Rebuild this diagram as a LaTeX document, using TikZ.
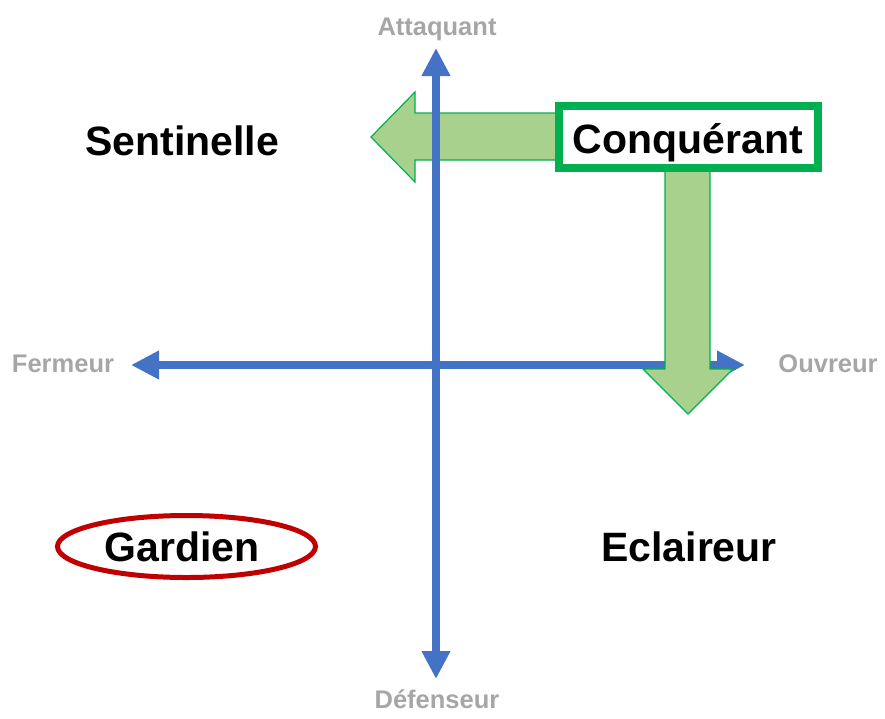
\documentclass[tikz,border=0pt]{standalone}
\usepackage{fontspec}
\setmainfont{Liberation Sans}
\usetikzlibrary{arrows.meta,shapes.geometric}

\definecolor{axisblue}{HTML}{4472C4}
\definecolor{labelgray}{HTML}{A6A6A6}
\definecolor{boxgreen}{HTML}{00B050}
\definecolor{arrowfill}{HTML}{A9D18E}
\definecolor{ringred}{HTML}{C00000}

\tikzset{
  axisline/.style={draw=axisblue, line width=8pt,
    {Triangle[width=27pt,length=28pt]}-{Triangle[width=27pt,length=28pt]}},
  polelabel/.style={anchor=base, text=labelgray, font=\bfseries\fontsize{25.5}{26}\selectfont, inner sep=0pt},
  rolelabel/.style={anchor=base, text=black, font=\bfseries\fontsize{41}{41}\selectfont, inner sep=0pt},
  movearrow/.style={fill=arrowfill, draw=boxgreen, line width=1.2pt, line join=miter},
}

\begin{document}
\begin{tikzpicture}[x=1pt, y=-1pt]
  \useasboundingbox (0,0) rectangle (885,718);

  % axis end points
  \coordinate (top) at (436,48);
  \coordinate (bottom) at (436,679);
  \coordinate (left) at (131,365);
  \coordinate (right) at (745,365);

  % move to the left, behind the vertical axis
  \draw[movearrow] (558,113) -- (415,113) -- (415,92) -- (371,137)
    -- (415,182) -- (415,160) -- (558,160) -- cycle;

  % the two axes
  \draw[axisline] (bottom) -- (top);
  \draw[axisline] (left) -- (right);

  % move downwards, over the horizontal axis
  \draw[movearrow] (665,168) -- (665,369) -- (643,369) -- (688,414)
    -- (733,369) -- (710,369) -- (710,168) -- cycle;

  % pole labels
  \node[polelabel] (attaquant) at (437,35) {Attaquant};
  \node[polelabel] (defenseur) at (437,708) {Défenseur};
  \node[polelabel] (fermeur) at (63,372) {Fermeur};
  \node[polelabel] (ouvreur) at (828,372) {Ouvreur};

  % highlighted roles
  \node[draw=boxgreen, fill=white, line width=8pt, rectangle,
        minimum width=259pt, minimum height=62pt, inner sep=0pt]
        (conqbox) at (688.5,137) {};
  \node[ellipse, draw=ringred, line width=5pt,
        minimum width=258pt, minimum height=62pt, inner sep=0pt]
        (gardienring) at (186.5,546.5) {};

  % role labels
  \node[rolelabel] (sentinelle) at (182,155) {Sentinelle};
  \node[rolelabel] (conquerant) at (688,153) {Conquérant};
  \node[rolelabel] (gardien) at (182,561) {Gardien};
  \node[rolelabel] (eclaireur) at (689,561) {Eclaireur};
\end{tikzpicture}
\end{document}
